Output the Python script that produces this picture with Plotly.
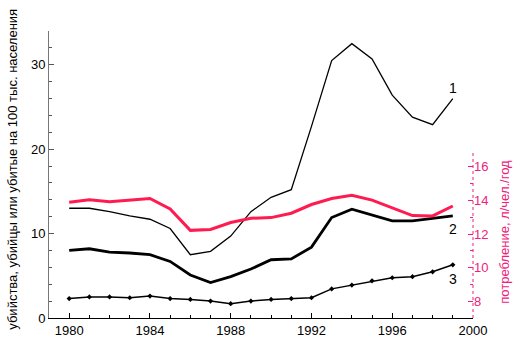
import plotly.graph_objects as go

years = list(range(1980, 2000))
series1 = [13.0, 13.0, 12.6, 12.1, 11.7, 10.6, 7.5, 7.9, 9.7, 12.6, 14.3, 15.2,
           22.7, 30.5, 32.5, 30.7, 26.4, 23.8, 22.9, 26.0]
series2 = [8.0, 8.2, 7.8, 7.7, 7.5, 6.7, 5.1, 4.2, 4.9, 5.8, 6.9, 7.0,
           8.4, 11.9, 12.9, 12.2, 11.5, 11.5, 11.8, 12.1]
series3 = [2.3, 2.5, 2.5, 2.4, 2.6, 2.3, 2.2, 2.0, 1.7, 2.0, 2.2, 2.3,
           2.4, 3.45, 3.9, 4.4, 4.77, 4.9, 5.47, 6.3]
consumption = [13.9, 14.04, 13.92, 14.02, 14.12, 13.49, 12.22, 12.27, 12.69, 12.94,
               12.98, 13.24, 13.76, 14.12, 14.31, 14.02, 13.57, 13.1, 13.08, 13.67]

series_labels = ["1", "2", "3"]
label_y = [27.2, 10.5, 4.65]

left_title = "убийства, убийцы или убитые на 100 тыс. населения"
right_title = "потребление, л/чел./год"

PINK = "#f0207a"
RED = "#ff1a50"
FONT = "Liberation Sans, Arial, sans-serif"

fig = go.Figure()
fig.add_trace(go.Scatter(x=years, y=series1, mode="lines",
                         line=dict(color="black", width=1.3), showlegend=False))
fig.add_trace(go.Scatter(x=years, y=series2, mode="lines",
                         line=dict(color="black", width=2.8), showlegend=False))
fig.add_trace(go.Scatter(x=years, y=series3, mode="lines+markers",
                         line=dict(color="black", width=1.5),
                         marker=dict(color="black", size=4, symbol="diamond"),
                         showlegend=False))
fig.add_trace(go.Scatter(x=years, y=consumption, mode="lines", yaxis="y2",
                         line=dict(color=RED, width=3), showlegend=False))

for lab, ly in zip(series_labels, label_y):
    fig.add_annotation(x=years[-1], y=ly, xref="x", yref="y", text=lab,
                       showarrow=False, font=dict(size=14, color="black", family=FONT))

fig.add_annotation(xref="paper", yref="paper", x=-0.085, y=0.52, text=left_title,
                   textangle=-90, showarrow=False, xanchor="center", yanchor="middle",
                   font=dict(size=13, color="black", family=FONT))
fig.add_annotation(xref="paper", yref="paper", x=1.075, y=0.30, text=right_title,
                   textangle=-90, showarrow=False, xanchor="center", yanchor="middle",
                   font=dict(size=13, color=PINK, family=FONT))

fig.add_shape(type="line", xref="paper", x0=1, x1=1, yref="y2 domain", y0=0, y1=1,
              line=dict(color=PINK, width=1, dash="dot"))

fig.update_layout(
    width=521, height=350,
    margin=dict(l=49, r=48, t=31, b=27),
    paper_bgcolor="white", plot_bgcolor="rgba(0,0,0,0)",
    font=dict(family=FONT, size=13, color="black"),
    xaxis=dict(range=[1979, 2000], tick0=1980, dtick=4, ticks="inside", ticklen=5,
               tickcolor="black", showline=True, linecolor="black", linewidth=1,
               showgrid=False, zeroline=False,
               minor=dict(dtick=1, tick0=1980, ticks="inside", ticklen=3, tickcolor="black"),
               tickfont=dict(size=13)),
    yaxis=dict(range=[0, 34], tick0=0, dtick=10, ticks="inside", ticklen=5,
               tickcolor="#555", showline=True, linecolor="#777", linewidth=1,
               showgrid=False, zeroline=False,
               minor=dict(dtick=2, tick0=0, ticks="inside", ticklen=3, tickcolor="#555"),
               tickfont=dict(size=13)),
    yaxis2=dict(range=[7, 17], domain=[0, 0.585], side="right",
                anchor="x", tick0=8, dtick=2, ticks="inside", ticklen=5,
                tickcolor=PINK, showline=False, showgrid=False, zeroline=False,
                minor=dict(dtick=1, tick0=8, ticks="inside", ticklen=3, tickcolor=PINK),
                tickfont=dict(size=13, color=PINK)),
)

fig.write_html("out.html")
